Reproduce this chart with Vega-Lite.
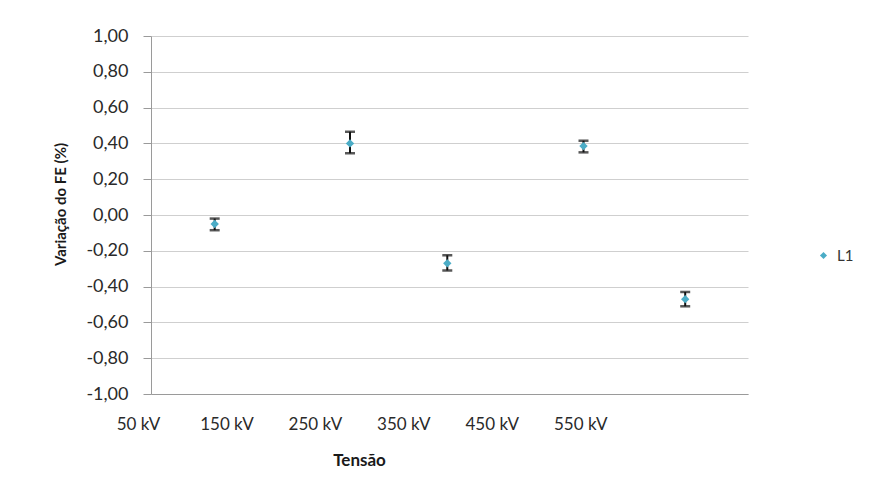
{
  "$schema": "https://vega.github.io/schema/vega-lite/v6.json",
  "autosize": "none",
  "width": 597,
  "height": 358,
  "padding": {"left": 151, "top": 36, "right": 123, "bottom": 101},
  "background": "white",
  "config": {
    "view": {"stroke": null},
    "font": "Lato",
    "locale": {"number": {"decimal": ",", "thousands": ".", "grouping": [3], "currency": ["", ""], "minus": "-"}},
    "axis": {"labelFont": "Lato", "titleFont": "Lato", "labelColor": "#2a2a2a", "titleColor": "#1a1a1a", "labelFontSize": 18, "titleFontSize": 17, "titleFontWeight": "bold"}
  },
  "data": {
    "values": [
      {"tensao": 122, "variacao": -0.05, "lo": -0.085, "hi": -0.02, "serie": "L1"},
      {"tensao": 275, "variacao": 0.40, "lo": 0.345, "hi": 0.465, "serie": "L1"},
      {"tensao": 385, "variacao": -0.27, "lo": -0.31, "hi": -0.225, "serie": "L1"},
      {"tensao": 539, "variacao": 0.385, "lo": 0.35, "hi": 0.415, "serie": "L1"},
      {"tensao": 654, "variacao": -0.47, "lo": -0.51, "hi": -0.43, "serie": "L1"}
    ]
  },
  "encoding": {
    "x": {
      "field": "tensao", "type": "quantitative",
      "scale": {"domain": [50, 725], "nice": false, "zero": false},
      "axis": {
        "title": "Tensão",
        "values": [50, 150, 250, 350, 450, 550],
        "labelExpr": "datum.value + ' kV'",
        "labelOffset": -13,
        "labelPadding": 22,
        "labelFlush": false,
        "labelOverlap": false,
        "labelFontSize": 17,
        "ticks": false,
        "tickSize": 0,
        "grid": false,
        "domainColor": "#9a9a9a",
        "titleX": 208,
        "titleY": 66,
        "titleAlign": "center",
        "titleBaseline": "middle",
        "titleAnchor": null
      }
    },
    "y": {
      "field": "variacao", "type": "quantitative",
      "scale": {"domain": [-1, 1], "nice": false},
      "axis": {
        "title": "Variação do FE (%)",
        "values": [-1, -0.8, -0.6, -0.4, -0.2, 0, 0.2, 0.4, 0.6, 0.8, 1],
        "format": ".2f",
        "grid": true,
        "gridColor": "#cfcfcf",
        "domainColor": "#9a9a9a",
        "tickColor": "#9a9a9a",
        "tickSize": 8,
        "labelPadding": 15,
        "labelFlush": false,
        "labelOverlap": false,
        "titleFontSize": 15,
        "titleX": -91,
        "titleY": 168,
        "titleAlign": "center",
        "titleBaseline": "middle",
        "titleAngle": -90
      }
    }
  },
  "layer": [
    {
      "mark": {"type": "rule", "color": "#111111", "strokeWidth": 2},
      "encoding": {"y": {"field": "lo", "type": "quantitative"}, "y2": {"field": "hi"}}
    },
    {
      "mark": {"type": "tick", "orient": "horizontal", "size": 10, "thickness": 2.5, "color": "#111111"},
      "encoding": {"y": {"field": "lo", "type": "quantitative"}}
    },
    {
      "mark": {"type": "tick", "orient": "horizontal", "size": 10, "thickness": 2.5, "color": "#111111"},
      "encoding": {"y": {"field": "hi", "type": "quantitative"}}
    },
    {
      "mark": {"type": "point", "shape": "diamond", "filled": true, "size": 70, "opacity": 1},
      "encoding": {
        "color": {
          "field": "serie", "type": "nominal",
          "scale": {"range": ["#4BACC6"]},
          "legend": {
            "title": null,
            "orient": "none",
            "legendX": 665,
            "legendY": 212,
            "padding": 0,
            "symbolSize": 50,
            "symbolType": "diamond",
            "labelFontSize": 15,
            "labelFont": "Lato",
            "labelColor": "#333333",
            "labelOffset": 6
          }
        }
      }
    }
  ]
}
